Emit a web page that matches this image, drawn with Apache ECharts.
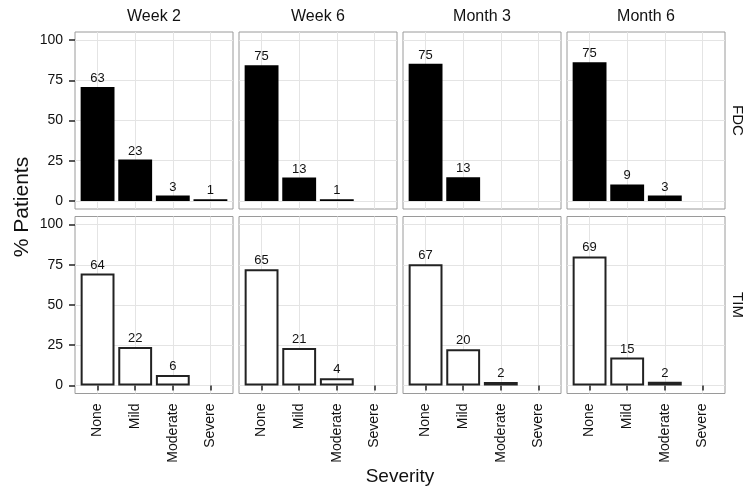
<!DOCTYPE html>
<html><head><meta charset="utf-8">
<script src="https://cdn.jsdelivr.net/npm/echarts@6/dist/echarts.min.js"></script>
<style>html,body{margin:0;padding:0;background:#fff}#c{width:745px;height:491px}</style>
</head><body><div id="c"></div>
<script>
const categories = ['None', 'Mild', 'Moderate', 'Severe'];
const timepoints = ['Week 2', 'Week 6', 'Month 3', 'Month 6'];
const groups = ['FDC', 'TIM'];
const yTicks = [0, 25, 50, 75, 100];
// bar heights (% patients), per timepoint, in category order
const fdcPercent = [
  [70.8, 25.8, 3.4, 1.1],
  [84.3, 14.6, 1.1, null],
  [85.2, 14.8, null, null],
  [86.2, 10.3, 3.4, null]
];
const fdcCounts = [
  [63, 23, 3, 1],
  [75, 13, 1, null],
  [75, 13, null, null],
  [75, 9, 3, null]
];
const timPercent = [
  [69.6, 23.9, 6.5, null],
  [72.2, 23.3, 4.4, null],
  [75.3, 22.5, 2.2, null],
  [80.2, 17.4, 2.3, null]
];
const timCounts = [
  [64, 22, 6, null],
  [65, 21, 4, null],
  [67, 20, 2, null],
  [69, 15, 2, null]
];

const percents = [fdcPercent, timPercent];
const counts = [fdcCounts, timCounts];

const colLeft = [75, 239, 403, 567];
const rowTop = [32, 216.5];
const panelW = 158, panelH = 177;
const FONT = '"Liberation Sans", Arial, sans-serif';
const gridColor = '#e4e4e4';
const textColor = '#111';

const grids = [], xAxes = [], yAxes = [], series = [];
let idx = 0;
for (let r = 0; r < 2; r++) {
  for (let c = 0; c < 4; c++) {
    grids.push({
      left: colLeft[c], top: rowTop[r], width: panelW, height: panelH,
      show: true, borderColor: '#9a9a9a', borderWidth: 1, backgroundColor: '#fff'
    });
    xAxes.push({
      gridIndex: idx, type: 'value', min: 0.4, max: 4.6,
      axisLine: { show: false },
      axisTick: { show: r === 1, customValues: [1, 2, 3, 4], length: 5, lineStyle: { color: '#222', width: 1.5 } },
      axisLabel: {
        show: r === 1, customValues: [1, 2, 3, 4], rotate: 90, margin: 10,
        fontSize: 14, fontFamily: FONT, color: textColor,
        formatter: v => categories[Math.round(v) - 1] || ''
      },
      splitLine: { show: true, lineStyle: { color: gridColor, width: 1 } }
    });
    yAxes.push({
      gridIndex: idx, type: 'value', min: -5, max: 105,
      axisLine: { show: false },
      axisTick: { show: c === 0, customValues: yTicks, length: 6, lineStyle: { color: '#222', width: 1.5 } },
      axisLabel: { show: c === 0, customValues: yTicks, margin: 12, fontSize: 14, fontFamily: FONT, color: textColor },
      splitLine: { show: true, lineStyle: { color: gridColor, width: 1 } }
    });
    const data = [];
    percents[r][c].forEach((v, i) => {
      if (v != null) data.push({ value: [i + 1, v], name: String(counts[r][c][i]) });
    });
    series.push({
      type: 'bar', xAxisIndex: idx, yAxisIndex: idx,
      barWidth: 0.9 * panelW / 4.2,
      clip: false,
      data: data,
      itemStyle: r === 0
        ? { color: '#000', borderColor: '#000', borderWidth: 1.5 }
        : { color: '#fff', borderColor: '#222', borderWidth: 2 },
      label: {
        show: true, position: 'top', distance: 2, formatter: '{b}',
        fontSize: 13, fontFamily: FONT, color: textColor
      },
      animation: false
    });
    idx++;
  }
}

const graphics = [];
timepoints.forEach((t, c) => {
  graphics.push({
    type: 'text', x: colLeft[c] + panelW / 2, y: 17,
    style: { text: t, font: '16px ' + FONT, fill: textColor, textAlign: 'center', textVerticalAlign: 'middle' }
  });
});
groups.forEach((g, r) => {
  graphics.push({
    type: 'text', x: 737, y: rowTop[r] + panelH / 2, rotation: -Math.PI / 2,
    style: { text: g, font: '15px ' + FONT, fill: textColor, textAlign: 'center', textVerticalAlign: 'middle' }
  });
});
graphics.push({
  type: 'text', x: 22, y: 207, rotation: Math.PI / 2,
  style: { text: '% Patients', font: '21px ' + FONT, fill: textColor, textAlign: 'center', textVerticalAlign: 'middle' }
});
graphics.push({
  type: 'text', x: 400, y: 477,
  style: { text: 'Severity', font: '19px ' + FONT, fill: textColor, textAlign: 'center', textVerticalAlign: 'middle' }
});

const chart = echarts.init(document.getElementById('c'), null, { renderer: 'canvas' });
chart.setOption({
  backgroundColor: '#fff',
  animation: false,
  grid: grids, xAxis: xAxes, yAxis: yAxes, series: series,
  graphic: graphics
});
</script></body></html>
